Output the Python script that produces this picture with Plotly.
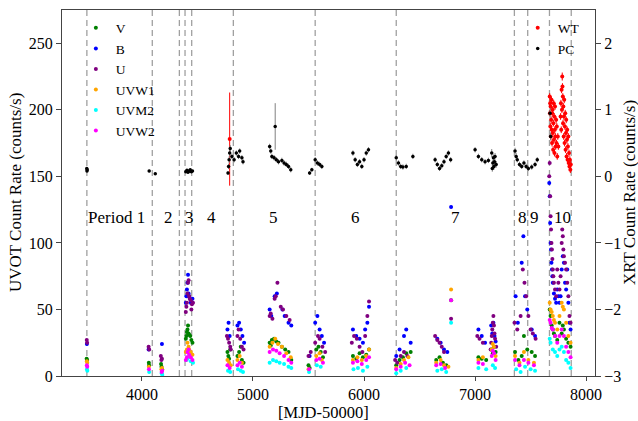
import plotly.graph_objects as go

# ---------------- data ----------------
v_mjd = [3502, 3506, 4062, 4064, 4172, 4176, 4182,
         4395, 4400, 4405, 4410, 4415, 4420, 4425, 4435, 4445, 4455,
         4770, 4778, 4785, 4795, 4860, 4875, 4890, 4900, 4915,
         5150, 5160, 5170, 5190, 5210, 5230, 5260, 5290, 5320, 5345,
         5500, 5510, 5570, 5590, 5610, 5630,
         5900, 5930, 5960, 5990, 6020, 6045,
         6290, 6320, 6350, 6380, 6420,
         6650, 6680, 6710, 6740, 6784,
         7030, 7060, 7100, 7150, 7160, 7170, 7185,
         7360, 7390, 7420, 7440, 7470, 7510, 7540,
         7672, 7680, 7690, 7700, 7710, 7720, 7740, 7760, 7780, 7790, 7800, 7820, 7840, 7860]
v_val = [13, 12, 10, 8, 9, 7, 5,
         28, 30, 33, 35, 38, 32, 31, 30, 27, 25,
         18, 15, 13, 20, 15, 18, 22, 12, 10,
         25, 23, 27, 28, 26, 25, 22, 20, 18, 12,
         8, 6, 20, 22, 18, 14,
         15, 13, 17, 14, 16, 20,
         8, 12, 14, 17, 18,
         12, 14, 10, 8, 57,
         14, 13, 12, 20, 17, 22, 18,
         18, 12, 15, 30, 20, 18, 15,
         50, 45, 38, 35, 32, 30, 27, 40, 32, 38, 35, 28, 25, 22]

b_mjd = [3504, 4060, 4180,
         4395, 4400, 4405, 4410, 4415, 4420, 4425, 4440, 4455,
         4770, 4780, 4790, 4860, 4875, 4890, 4905, 4920,
         5150, 5165, 5195, 5215, 5265, 5285, 5320, 5345,
         5510, 5560, 5580, 5600, 5620, 5640,
         5900, 5930, 5960, 5990, 6010, 6030, 6045,
         6290, 6320, 6360, 6380, 6420,
         6660, 6690, 6720, 6750, 6784,
         7030, 7060, 7090, 7145, 7155, 7165, 7175, 7185,
         7365, 7385, 7420, 7435, 7450, 7470, 7510, 7540,
         7668, 7672, 7676, 7680, 7684, 7688, 7692, 7696, 7700, 7710, 7720, 7730,
         7740, 7750, 7760, 7770, 7780, 7790, 7800, 7810, 7820, 7830, 7840, 7850, 7860]
b_val = [24, 20, 24,
         55, 60, 65, 70, 76, 62, 60, 55, 58,
         35, 40, 30, 38, 40, 35, 30, 25,
         50, 45, 60, 62, 50, 45, 40, 38,
         15, 40, 45, 35, 30, 25,
         35, 30, 28, 25, 35, 40, 52,
         15, 20, 30, 35, 25,
         28, 25, 20, 18, 127,
         35, 30, 25, 38, 32, 40, 30, 26,
         60, 40, 85, 105, 60, 50, 35, 30,
         145, 135, 115, 100, 95, 85, 80, 75, 70, 62, 58, 55,
         65, 60, 55, 60, 80, 90, 85, 70, 65, 80, 55, 40, 35]

u_mjd = [3503, 3506, 4060, 4065, 4170, 4175, 4180,
         4395, 4400, 4405, 4410, 4415, 4420, 4425, 4430, 4440, 4445, 4450, 4460,
         4765, 4775, 4785, 4795, 4800, 4860, 4870, 4885, 4900, 4915,
         5150, 5160, 5175, 5195, 5205, 5220, 5250, 5270, 5300, 5330,
         5500, 5520, 5560, 5585, 5600, 5625, 5650,
         5890, 5910, 5935, 5960, 5985, 6010, 6030, 6045,
         6280, 6300, 6330, 6360, 6390,
         6640, 6660, 6680, 6700, 6720, 6784,
         7020, 7040, 7070, 7140, 7145, 7150, 7155, 7160, 7165, 7170, 7175, 7180, 7190,
         7355, 7380, 7410, 7430, 7445, 7460, 7480, 7500, 7520, 7545,
         7668, 7672, 7676, 7680, 7684, 7688, 7692, 7696, 7700, 7705, 7710, 7720, 7730,
         7740, 7750, 7760, 7770, 7780, 7785, 7790, 7795, 7800, 7810, 7820, 7830, 7840, 7850, 7860]
u_val = [27, 25, 22, 20, 15, 12, 13,
         48, 52, 55, 62, 70, 72, 60, 58, 57, 50, 54, 55,
         30, 28, 25, 22, 20, 30, 35, 28, 22, 20,
         45, 47, 43, 58, 60, 70, 52, 50, 45, 42,
         15, 18, 25, 30, 28, 22, 18,
         25, 30, 28, 22, 18, 30, 45, 56,
         12, 10, 15, 18, 15,
         30, 27, 25, 22, 18, 43,
         30, 28, 25, 20, 25, 30, 35, 40, 45, 38, 32, 28, 22,
         40, 35, 45, 80, 70, 60, 45, 35, 32, 28,
         150, 160, 135, 120, 110, 100, 95, 88, 80, 75, 70, 65, 60,
         80, 70, 65, 75, 100, 110, 105, 95, 90, 85, 80, 70, 60, 45, 40]

w1_mjd = [3504, 3507, 4062, 4175, 4180,
          4395, 4405, 4410, 4420, 4425, 4440, 4455,
          4770, 4785, 4800, 4860, 4880, 4900,
          5150, 5175, 5200, 5225, 5260, 5300, 5340,
          5500, 5570, 5600, 5620,
          5900, 5940, 5980, 6020, 6045,
          6290, 6330, 6360, 6400,
          6650, 6690, 6720, 6760, 6784,
          7030, 7070, 7150, 7160, 7170, 7185,
          7360, 7400, 7440, 7480, 7530,
          7672, 7680, 7690, 7700, 7710, 7720, 7740, 7760, 7780, 7790, 7800, 7820, 7840, 7860]
w1_val = [11, 10, 7, 5, 6,
          18, 20, 25, 22, 20, 18, 16,
          12, 10, 8, 12, 15, 10,
          22, 25, 28, 24, 22, 17, 14,
          5, 15, 17, 12,
          12, 14, 12, 15, 20,
          6, 9, 12, 14,
          10, 12, 8, 7, 65,
          12, 14, 20, 24, 22, 15,
          15, 10, 18, 12, 10,
          55, 50, 48, 45, 42, 40, 35, 45, 55, 52, 50, 40, 30, 25]

m2_mjd = [3505, 3508, 4065, 4178, 4183,
          4400, 4410, 4420, 4440, 4460,
          4775, 4795, 4865, 4890, 4910,
          5150, 5180, 5210, 5240, 5280, 5320, 5345,
          5505, 5575, 5610,
          5905, 5945, 5990, 6030,
          6290, 6330, 6380,
          6660, 6700, 6740, 6784,
          7030, 7100, 7160, 7180,
          7370, 7410, 7450, 7500, 7540,
          7672, 7680, 7700, 7720, 7740, 7760, 7780, 7800, 7820, 7840, 7860]
m2_val = [5, 4, 3, 2, 1,
          12, 13, 14, 11, 10,
          4, 3, 5, 4, 3,
          10, 12, 11, 10, 9, 7, 6,
          3, 8, 7,
          5, 6, 4, 7,
          2, 4, 6,
          4, 5, 3, 40,
          6, 5, 8, 6,
          5, 3, 7, 5, 4,
          28, 25, 20, 18, 15, 20, 22, 18, 12, 10, 6]

w2_mjd = [3504, 3507, 4063, 4177, 4182,
          4395, 4405, 4410, 4420, 4425, 4440, 4455,
          4770, 4790, 4860, 4880, 4900,
          5150, 5180, 5210, 5240, 5280, 5320, 5345,
          5505, 5570, 5600, 5630,
          5900, 5940, 5980, 6020, 6045,
          6290, 6330, 6370, 6410,
          6650, 6690, 6730, 6784,
          7030, 7070, 7150, 7160, 7170, 7185,
          7360, 7400, 7440, 7480, 7530,
          7672, 7680, 7690, 7700, 7720, 7740, 7760, 7780, 7800, 7820, 7840, 7860]
w2_val = [8, 7, 5, 3, 4,
          12, 14, 18, 20, 16, 14, 12,
          8, 6, 8, 10, 7,
          18, 20, 19, 17, 15, 12, 10,
          5, 12, 13, 10,
          10, 11, 9, 12, 14,
          5, 7, 10, 8,
          8, 9, 6, 57,
          10, 9, 15, 19, 17, 12,
          12, 8, 12, 10, 8,
          42, 40, 36, 35, 30, 25, 30, 35, 30, 22, 18, 14]

pc_mjd = [3503, 3505, 3507, 4065, 4120,
          4395, 4405, 4415, 4425, 4435, 4445, 4455,
          4775, 4780, 4785, 4790, 4795, 4810, 4830, 4850, 4870, 4880, 4900, 4910,
          5150, 5160, 5170, 5190, 5200, 5210, 5230, 5260, 5280, 5300, 5320, 5340,
          5510, 5530, 5560, 5580, 5600, 5620,
          5900, 5920, 5940, 5960, 5980, 6000, 6020, 6040,
          6290, 6310, 6330, 6350, 6380, 6440,
          6640, 6660, 6680, 6700, 6720, 6740, 6760, 6780,
          7000, 7030, 7060, 7090, 7120, 7150, 7155, 7160, 7165, 7170, 7175, 7180, 7190,
          7360, 7370, 7380, 7400, 7420, 7440, 7460, 7480, 7510, 7540, 7560,
          7675, 7680]
pc_val = [0.12, 0.08, 0.10, 0.08, 0.04,
          0.07, 0.09, 0.06, 0.08, 0.10, 0.07, 0.08,
          0.05, 0.15, 0.25, 0.35, 0.42, 0.30, 0.25, 0.35, 0.30, 0.38, 0.28, 0.22,
          0.45, 0.38, 0.30, 0.28, 0.75, 0.25, 0.22, 0.24, 0.20, 0.18, 0.15, 0.10,
          0.05, 0.10, 0.25, 0.20, 0.18, 0.15,
          0.35, 0.25, 0.18, 0.22, 0.15, 0.25, 0.35, 0.40,
          0.28, 0.20, 0.15, 0.14, 0.15, 0.30,
          0.25, 0.18, 0.12, 0.16, 0.22, 0.30, 0.35, 0.25,
          0.40, 0.30, 0.25, 0.22, 0.24, 0.35, 0.12, 0.20, 0.28, 0.15, 0.22, 0.30, 0.18,
          0.38, 0.30, 0.25, 0.18, 0.15, 0.20, 0.15, 0.12, 0.14, 0.18, 0.25,
          0.95, 0.60]
pc_err = [0.02, 0.02, 0.02, 0.02, 0.02,
          0.02, 0.02, 0.02, 0.02, 0.02, 0.02, 0.02,
          0.03, 0.04, 0.05, 0.05, 0.05, 0.04, 0.04, 0.04, 0.04, 0.04, 0.04, 0.04,
          0.04, 0.04, 0.04, 0.04, 0.35, 0.04, 0.04, 0.04, 0.04, 0.04, 0.04, 0.04,
          0.03, 0.03, 0.04, 0.04, 0.04, 0.04,
          0.04, 0.04, 0.04, 0.04, 0.04, 0.04, 0.04, 0.04,
          0.04, 0.04, 0.04, 0.04, 0.04, 0.04,
          0.04, 0.04, 0.04, 0.04, 0.04, 0.04, 0.04, 0.04,
          0.04, 0.04, 0.04, 0.04, 0.04, 0.06, 0.05, 0.05, 0.05, 0.05, 0.05, 0.05, 0.05,
          0.05, 0.05, 0.04, 0.04, 0.04, 0.04, 0.04, 0.04, 0.04, 0.04, 0.04,
          0.08, 0.06]

wt_mjd = [4790,
          7672, 7674, 7676, 7678, 7680, 7683, 7685, 7688, 7690, 7693,
          7695, 7698, 7700, 7703, 7705, 7708, 7710, 7713, 7715, 7718,
          7720, 7723, 7726, 7730, 7733, 7736, 7740, 7745, 7750,
          7770, 7773, 7776, 7779, 7782, 7785, 7787, 7790, 7792, 7795,
          7798, 7800, 7803, 7806, 7809, 7812, 7815, 7818, 7821, 7824,
          7827, 7830, 7833, 7836, 7840, 7843, 7846, 7850, 7854, 7858, 7862]
wt_val = [0.56,
          1.20, 0.95, 1.10, 0.75, 1.05, 0.60, 0.85, 1.15, 0.70, 0.50,
          0.95, 1.00, 0.65, 0.40, 0.80, 1.10, 0.55, 0.90, 0.35, 0.70,
          1.05, 0.60, 0.45, 0.85, 0.50, 0.75, 0.30, 0.60, 0.45,
          0.90, 1.10, 0.70, 1.30, 1.00, 1.50, 1.35, 1.20, 0.80, 1.05,
          0.60, 0.90, 1.15, 0.50, 0.75, 0.95, 0.40, 0.65, 0.85, 0.30,
          0.55, 0.70, 0.25, 0.45, 0.60, 0.20, 0.35, 0.15, 0.25, 0.10, 0.18]
wt_err = [0.70,
          0.05, 0.05, 0.05, 0.05, 0.05, 0.05, 0.05, 0.05, 0.05, 0.05,
          0.05, 0.05, 0.05, 0.05, 0.05, 0.05, 0.05, 0.05, 0.05, 0.05,
          0.05, 0.05, 0.05, 0.05, 0.05, 0.05, 0.05, 0.05, 0.05,
          0.05, 0.05, 0.05, 0.05, 0.05, 0.06, 0.05, 0.05, 0.05, 0.05,
          0.05, 0.05, 0.05, 0.05, 0.05, 0.05, 0.05, 0.05, 0.05, 0.05,
          0.05, 0.05, 0.05, 0.05, 0.05, 0.05, 0.05, 0.05, 0.05, 0.05, 0.05]

period_bounds = [3504, 4093, 4337, 4388, 4448, 4823, 5560, 6290, 7354, 7474, 7670, 7866]
period_labels = ["Period 1", "2", "3", "4", "5", "6", "7", "8", "9", "10"]
period_label_x = [3775, 4243, 4424, 4622, 5181, 5921, 6822, 7427, 7535, 7787]
period_label_y = 119

uvot_bands = [
    ("V", v_mjd, v_val, "green"),
    ("B", b_mjd, b_val, "blue"),
    ("U", u_mjd, u_val, "purple"),
    ("UVW1", w1_mjd, w1_val, "orange"),
    ("UVM2", m2_mjd, m2_val, "cyan"),
    ("UVW2", w2_mjd, w2_val, "magenta"),
]

FONT = "Liberation Serif"
fig = go.Figure()

for name, xs, ys, col in uvot_bands:
    fig.add_trace(go.Scatter(
        x=xs, y=ys, mode="markers", name=name,
        marker=dict(color=col, size=4),
        error_y=dict(type="constant", value=1.0, color=col, thickness=1, width=0),
        legend="legend", yaxis="y",
    ))

fig.add_trace(go.Scatter(
    x=wt_mjd, y=wt_val, mode="markers", name="WT",
    marker=dict(color="red", size=4),
    error_y=dict(type="data", array=wt_err, color="red", thickness=1, width=0),
    legend="legend2", yaxis="y2",
))
fig.add_trace(go.Scatter(
    x=pc_mjd, y=pc_val, mode="markers", name="PC",
    marker=dict(color="black", size=3.5),
    error_y=dict(type="data", array=pc_err, color="gray", thickness=1, width=0),
    legend="legend2", yaxis="y2",
))

shapes = [dict(type="line", xref="x", yref="paper", x0=b, x1=b, y0=0, y1=1,
               line=dict(color="#a0a0a0", width=1.3, dash="6px,4px"), layer="below")
          for b in period_bounds]

annotations = [dict(x=x, y=period_label_y, xref="x", yref="y", text=t,
                    showarrow=False, font=dict(family=FONT, size=17, color="black"))
               for x, t in zip(period_label_x, period_labels)]

TITLE_FONT = dict(family=FONT, size=17, color="black")
annotations += [
    dict(text="UVOT Count Rate (counts/s)", xref="paper", yref="paper", x=-0.088, y=0.5,
         xanchor="center", yanchor="middle", textangle=-90, showarrow=False, font=TITLE_FONT),
    dict(text="XRT Count Rate (counts/s)", xref="paper", yref="paper", x=1.064, y=0.5,
         xanchor="center", yanchor="middle", textangle=-90, showarrow=False, font=TITLE_FONT),
    dict(text="[MJD-50000]", xref="paper", yref="paper", x=0.49, y=-0.099,
         xanchor="center", yanchor="middle", showarrow=False,
         font=dict(family=FONT, size=16.5, color="black")),
]

axis_common = dict(showgrid=False, zeroline=False, showline=True, linecolor="#444",
                   linewidth=1, ticks="outside", tickcolor="#444",
                   tickfont=dict(family=FONT, size=16, color="black"), automargin=False)

fig.update_layout(
    width=638, height=421,
    margin=dict(l=62, r=43, t=10, b=45, autoexpand=False),
    plot_bgcolor="white", paper_bgcolor="white",
    font=dict(family=FONT, color="black"),
    xaxis=dict(range=[3280, 8080], tickvals=[4000, 5000, 6000, 7000, 8000], mirror=True,
               ticklen=4, **axis_common),
    yaxis=dict(range=[0, 275], tickvals=[0, 50, 100, 150, 200, 250], mirror=True,
               ticklen=5, **axis_common),
    yaxis2=dict(range=[-3, 2.5], tickvals=[-3, -2, -1, 0, 1, 2], overlaying="y", side="right",
                ticktext=["\u22123", "\u22122", "\u22121", "0", "1", "2"],
                ticklen=5, **axis_common),
    legend=dict(x=0.026, y=0.993, xanchor="left", yanchor="top", bgcolor="rgba(0,0,0,0)",
                font=dict(family=FONT, size=13.5), itemwidth=30),
    legend2=dict(x=0.855, y=0.993, xanchor="left", yanchor="top", bgcolor="rgba(0,0,0,0)",
                 font=dict(family=FONT, size=13.5), itemwidth=30),
    shapes=shapes, annotations=annotations,
)

fig.write_html("out.html", config={"displayModeBar": False},
               post_script="document.body.style.margin='0';document.body.style.padding='0';")
